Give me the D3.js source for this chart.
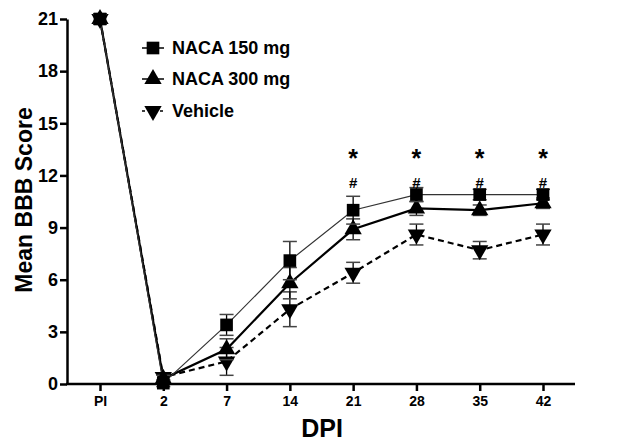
<!DOCTYPE html>
<html><head><meta charset="utf-8">
<script src="https://cdn.jsdelivr.net/npm/d3@7/dist/d3.min.js"></script>
<style>body{margin:0;background:#fff}svg{display:block}text{font-family:"Liberation Sans",Arial,sans-serif;font-weight:bold}</style>
</head><body><svg id="c" width="624" height="445"></svg>
<script>
const categories = ["PI","2","7","14","21","28","35","42"];
const naca150 = [21, 0.05, 3.4, 7.1, 10.0, 10.9, 10.9, 10.9];
const naca150Err = [0.3, 0.2, 0.6, 1.1, 0.8, 0.4, 0.3, 0.3];
const naca300 = [21, 0.3, 2.0, 5.8, 8.9, 10.1, 10.0, 10.4];
const naca300Err = [0.3, 0.2, 0.6, 0.9, 0.6, 0.4, 0.3, 0.3];
const vehicle = [21, 0.4, 1.3, 4.3, 6.4, 8.6, 7.7, 8.6];
const vehicleErr = [0.3, 0.2, 0.8, 1.0, 0.6, 0.6, 0.5, 0.6];
const yTicks = [0,3,6,9,12,15,18,21];
const sigCats = ["21","28","35","42"];
const seriesNames = ["NACA 150 mg","NACA 300 mg","Vehicle"];

const svg = d3.select("#c");
const x = d3.scalePoint().domain(categories).range([100,543]);
const y = d3.scaleLinear().domain([0,21]).range([384,19]);

const yAxis = svg.append("g").attr("transform","translate(67,0)")
  .call(d3.axisLeft(y).tickValues(yTicks).tickSize(7).tickSizeOuter(0));
yAxis.select(".domain").attr("stroke-width",2.5);
yAxis.selectAll(".tick line").attr("stroke-width",2.5);
yAxis.selectAll(".tick text").attr("font-size",18).attr("x",-9).attr("fill","#000");

const xAxis = svg.append("g").attr("transform","translate(0,384)")
  .call(d3.axisBottom(x).tickSize(7).tickSizeOuter(0));
xAxis.select(".domain").attr("d","M66,0H575").attr("stroke-width",2.5);
xAxis.selectAll(".tick line").attr("stroke-width",2.5);
xAxis.selectAll(".tick text").attr("font-size",14).attr("y",12).attr("fill","#000");

svg.append("text").attr("transform","translate(32,200) rotate(-90)")
  .attr("text-anchor","middle").attr("font-size",23).text("Mean BBB Score");
svg.append("text").attr("x",322).attr("y",437).attr("text-anchor","middle")
  .attr("font-size",25).text("DPI");

const series = [
  {vals:naca150, err:naca150Err, sym:d3.symbolSquare, size:160, stroke:"#333", sw:1.2, dash:null, rot:0},
  {vals:naca300, err:naca300Err, sym:d3.symbolTriangle, size:130, stroke:"#000", sw:2.2, dash:null, rot:0},
  {vals:vehicle, err:vehicleErr, sym:d3.symbolTriangle, size:130, stroke:"#000", sw:2.2, dash:"6,4", rot:180}
];

const line = d3.line().x((d,i)=>x(categories[i])).y(d=>y(d));

series.slice().reverse().forEach(s=>{
  svg.append("path").datum(s.vals).attr("d",line).attr("fill","none")
    .attr("stroke",s.stroke).attr("stroke-width",s.sw).attr("stroke-dasharray",s.dash);
});
series.slice().reverse().forEach(s=>{
  const g = svg.append("g");
  s.vals.forEach((v,i)=>{
    const cx = x(categories[i]);
    const e = s.err[i];
    g.append("line").attr("x1",cx).attr("x2",cx).attr("y1",y(v+e)).attr("y2",y(v-e)).attr("stroke","#000").attr("stroke-width",1.3);
    [v+e,v-e].forEach(t=>g.append("line").attr("x1",cx-7).attr("x2",cx+7).attr("y1",y(t)).attr("y2",y(t)).attr("stroke","#444").attr("stroke-width",1.5));
    g.append("path").attr("d",d3.symbol().type(s.sym).size(s.size)())
      .attr("transform",`translate(${cx},${y(v)}) rotate(${s.rot})`).attr("fill","#000");
  });
});

sigCats.forEach(c=>{
  svg.append("text").attr("x",x(c)).attr("y",167).attr("text-anchor","middle").attr("font-size",25).text("*");
  svg.append("text").attr("x",x(c)).attr("y",188).attr("text-anchor","middle").attr("font-size",15).attr("font-weight","normal").text("#");
});

const ly = [48,79,111];
seriesNames.forEach((n,i)=>{
  const s = series[i];
  const lx = 153;
  svg.append("line").attr("x1",lx-11).attr("x2",lx+11).attr("y1",ly[i]).attr("y2",ly[i])
    .attr("stroke","#000").attr("stroke-width",1.5).attr("stroke-dasharray",s.dash?"3,3":null);
  svg.append("path").attr("d",d3.symbol().type(s.sym).size(s.size)())
    .attr("transform",`translate(${lx},${ly[i]}) rotate(${s.rot})`).attr("fill","#000");
  svg.append("text").attr("x",172).attr("y",ly[i]+6).attr("font-size",18).text(n);
});
</script></body></html>
